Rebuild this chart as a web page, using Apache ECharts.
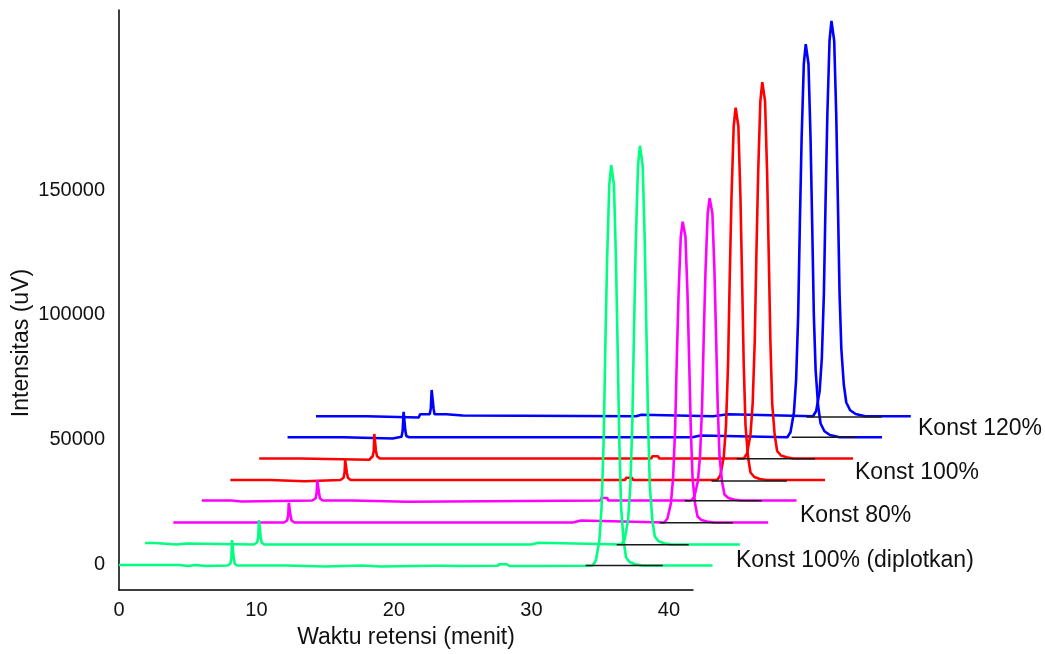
<!DOCTYPE html>
<html>
<head>
<meta charset="utf-8">
<script src="https://cdn.jsdelivr.net/npm/echarts@6/dist/echarts.min.js"></script>
<style>
html,body{margin:0;padding:0;background:#fff;}
#chart{width:1045px;height:654px;}
</style>
</head>
<body>
<div id="chart"></div>
<script>
// ---- Data (x: retention time in minutes, y: intensity in uV) ----
var xTickValues = [0, 10, 20, 30, 40];
var yTickValues = [0, 50000, 100000, 150000];

var seriesNames = ['Konst 100% (diplotkan) A', 'Konst 100% (diplotkan) B', 'Konst 80% A', 'Konst 80% B',
                   'Konst 100% A', 'Konst 100% B', 'Konst 120% A', 'Konst 120% B'];
var seriesColors = ['#00ff80', '#00ff80', '#ff00ff', '#ff00ff', '#ff0000', '#ff0000', '#0000ff', '#0000ff'];

var traceG1 = [[0,400],[4.4,400],[4.5,0],[5.0,0],[5.1,400],[5.6,400],[5.7,0],[6.3,0],[6.4,200],[7.9,200],[8.1,900],[8.18,3500],[8.22,10400],[8.29,10400],[8.34,3500],[8.42,900],[8.6,200],[12.2,200],[12.3,-200],[15,-200],[15.1,200],[17.7,200],[17.8,-200],[19.0,-200],[19.1,100],[22.8,100],[22.9,500],[23.2,100],[25.0,0],[27.5,100],[27.7,700],[28.2,700],[28.4,0],[30.0,0],[30.1,300],[30.4,0],[33.9,100],
  [34.46,200],[34.69,2300],[34.94,10300],[35.10,23600],[35.25,49900],[35.37,86700],[35.50,122000],[35.66,152400],[35.80,160400],[35.92,160400],[36.00,152400],[36.15,122000],[36.27,86700],[36.39,49900],[36.52,23600],[36.70,10300],[36.88,3400],[37.16,1500],[37.56,700],[38.06,200],[43.17,200]];

var traceG2 = [[1.9,9200],[2.6,9200],[2.7,8600],[4.2,8600],[4.3,9000],[4.9,9000],[5.0,8600],[9.8,8600],[10.05,9400],[10.13,11500],[10.18,18400],[10.25,18400],[10.3,11500],[10.38,9400],[10.55,8600],[30.0,8600],[30.1,9300],[30.5,9300],[30.6,8600],
  [36.55,8600],[36.78,10700],[37.03,18600],[37.19,31900],[37.34,58000],[37.46,94700],[37.59,129800],[37.75,160100],[37.89,168100],[38.01,168100],[38.09,160100],[38.24,129800],[38.36,94700],[38.48,58000],[38.61,31900],[38.79,18600],[38.97,11800],[39.25,9900],[39.65,9100],[40.15,8600],[45.16,8600]];

var traceM1 = [[3.95,17400],[6.7,17400],[6.8,16900],[6.9,17400],[8.5,17400],[8.6,16900],[8.7,17400],[12.0,17400],[12.23,18200],[12.31,20500],[12.35,25300],[12.42,25300],[12.47,20500],[12.55,18200],[12.75,17400],[33.0,17400],[33.1,18200],[33.6,18200],[33.7,17400],
  [39.66,17400],[39.89,19000],[40.14,25000],[40.30,35000],[40.45,54700],[40.57,82400],[40.70,108800],[40.86,131700],[41.00,137700],[41.12,137700],[41.20,131700],[41.35,108800],[41.47,82400],[41.59,54700],[41.72,35000],[41.90,25000],[42.08,19800],[42.36,18400],[42.76,17800],[43.26,17400],[47.22,17400]];

var traceM2 = [[6.02,26200],[8.2,26200],[8.3,25800],[8.9,25800],[9.0,26200],[14.05,26200],[14.3,27000],[14.38,29500],[14.42,34400],[14.49,34400],[14.54,29500],[14.62,27000],[14.82,26200],[17.0,26200],[17.1,25700],[21.0,25700],[21.1,26200],[35.0,26200],[35.1,27200],[35.5,27200],[35.6,26200],
  [41.62,26200],[41.85,27800],[42.10,33800],[42.26,43900],[42.41,63700],[42.53,91500],[42.66,118100],[42.82,141100],[42.96,147100],[43.08,147100],[43.16,141100],[43.31,118100],[43.43,91500],[43.55,63700],[43.68,43900],[43.86,33800],[44.04,28600],[44.32,27200],[44.72,26600],[45.22,26200],[49.28,26200]];

var traceR1 = [[8.1,34400],[11.0,34400],[11.1,33900],[13.5,33900],[13.6,34400],[16.1,34400],[16.33,35300],[16.41,37500],[16.45,42400],[16.52,42400],[16.57,37500],[16.65,35300],[16.85,34400],[17.5,34400],[17.6,34900],[17.9,34400],[36.8,34400],[36.9,35300],[37.3,35300],[37.4,34400],
  [43.51,34400],[43.74,36300],[43.99,43800],[44.15,56100],[44.30,80600],[44.42,114800],[44.55,147600],[44.71,175900],[44.85,183300],[44.97,183300],[45.05,175900],[45.20,147600],[45.32,114800],[45.44,80600],[45.57,56100],[45.75,43800],[45.93,37400],[46.21,35600],[46.61,34800],[47.11,34400],[51.35,34400]];

var traceR2 = [[10.2,43000],[13.2,43000],[13.3,42500],[18.2,42500],[18.45,43900],[18.53,46000],[18.57,52800],[18.64,52800],[18.69,46000],[18.77,43900],[18.97,43000],[22.3,43000],[22.4,43500],[22.6,43000],[38.7,43000],[38.8,43900],[39.2,43900],[39.3,43000],
  [45.45,43000],[45.68,45000],[45.93,52500],[46.09,65000],[46.24,89700],[46.36,124300],[46.49,157400],[46.65,186000],[46.79,193500],[46.91,193500],[46.99,186000],[47.14,157400],[47.26,124300],[47.38,89700],[47.51,65000],[47.69,52500],[47.87,46000],[48.15,44200],[48.55,43500],[49.05,43000],[53.39,43000]];

var traceB1 = [[12.26,51500],[16.3,51500],[16.4,51000],[19.9,51000],[20.0,51500],[20.55,51700],[20.63,54000],[20.7,61700],[20.78,61700],[20.83,54000],[20.9,52000],[21.1,51500],[41.7,51500],[41.8,52200],[42.3,52200],[42.4,51500],
  [48.61,51500],[48.84,53500],[49.09,61400],[49.25,74500],[49.40,100200],[49.52,136400],[49.65,171000],[49.81,200800],[49.95,208700],[50.07,208700],[50.15,200800],[50.30,171000],[50.42,136400],[50.54,100200],[50.67,78200],[50.85,64100],[51.03,57000],[51.31,53900],[51.71,52400],[52.41,51500],[55.5,51500]];

var traceB2 = [[14.33,59900],[18.0,59900],[18.1,59400],[21.8,59400],[21.9,60700],[22.6,60700],[22.68,63000],[22.74,70400],[22.82,70400],[22.88,63000],[22.95,60700],[23.8,60700],[23.9,60200],[25.0,60200],[25.1,59900],[37.6,59900],[37.7,60500],[38.0,60500],[38.1,59900],[43.2,59900],[43.3,60700],[44.3,60700],[44.4,59900],
  [50.48,59900],[50.71,62000],[50.96,69900],[51.12,83000],[51.27,108900],[51.39,145300],[51.52,180100],[51.68,210100],[51.82,218000],[51.94,218000],[52.02,210100],[52.17,180100],[52.29,145300],[52.41,108900],[52.54,86800],[52.72,72500],[52.90,65400],[53.18,62300],[53.58,60800],[54.28,59900],[57.59,59900]];

// integration baselines under main peaks: [xStart, xEnd, y]
var peakBaseStart = [33.94, 36.2, 39.33, 41.15, 43.1, 44.94, 48.93, 50.01];
var peakBaseEnd   = [39.55, 41.44, 44.65, 46.74, 48.58, 50.62, 53.66, 55.48];
var peakBaseLevel = [200, 8500, 17300, 26100, 34000, 42900, 51500, 59600];

var labelTexts = ['Konst 120%', 'Konst 100%', 'Konst 80%', 'Konst 100% (diplotkan)'];

// ---- Chart ----
var traces = [traceG1, traceG2, traceM1, traceM2, traceR1, traceR2, traceB1, traceB2];
var FONT = '"Liberation Sans", Arial, sans-serif';

// axis grid (visible axes) and a wider plotting grid with the same scale
var AX_LEFT = 119, AX_TOP = 10, AX_W = 574, AX_H = 582;
var X_MAX = 41.75, X_MAX_PLOT = 60;
var PLOT_W = AX_W * X_MAX_PLOT / X_MAX;
var Y_MIN = -10400, Y_MAX = 222400;

var series = [];
for (var i = traces.length - 1; i >= 0; i--) {
  series.push({
    name: seriesNames[i],
    type: 'line',
    xAxisIndex: 1,
    yAxisIndex: 1,
    data: traces[i],
    showSymbol: false,
    clip: false,
    silent: true,
    z: 2 + (traces.length - i) * 0.01,
    lineStyle: { color: seriesColors[i], width: 2.6 },
    itemStyle: { color: seriesColors[i] }
  });
}
for (var j = 0; j < peakBaseStart.length; j++) {
  series.push({
    name: 'baseline ' + j,
    type: 'line',
    xAxisIndex: 1,
    yAxisIndex: 1,
    data: [[peakBaseStart[j], peakBaseLevel[j]], [peakBaseEnd[j], peakBaseLevel[j]]],
    showSymbol: false,
    clip: false,
    silent: true,
    z: 5,
    lineStyle: { color: '#1a1a1a', width: 1.3 }
  });
}

var chart = echarts.init(document.getElementById('chart'), null, { renderer: 'canvas' });
chart.setOption({
  animation: false,
  backgroundColor: '#ffffff',
  grid: [
    { left: AX_LEFT, top: AX_TOP, width: AX_W, height: AX_H, containLabel: false },
    { left: AX_LEFT, top: AX_TOP, width: PLOT_W, height: AX_H, containLabel: false }
  ],
  xAxis: [{
    type: 'value',
    gridIndex: 0,
    min: 0,
    max: X_MAX,
    name: 'Waktu retensi (menit)',
    nameLocation: 'middle',
    nameGap: 36,
    nameTextStyle: { fontFamily: FONT, fontSize: 23, color: '#111' },
    axisLine: { show: true, onZero: false, lineStyle: { color: '#000', width: 1.5 } },
    axisTick: { show: false },
    splitLine: { show: false },
    axisLabel: { customValues: xTickValues, fontFamily: FONT, fontSize: 20, color: '#111', margin: 10 }
  }, {
    type: 'value',
    gridIndex: 1,
    min: 0,
    max: X_MAX_PLOT,
    show: false
  }],
  yAxis: [{
    type: 'value',
    gridIndex: 0,
    min: Y_MIN,
    max: Y_MAX,
    axisLine: { show: true, onZero: false, lineStyle: { color: '#000', width: 1.5 } },
    axisTick: { show: false },
    splitLine: { show: false },
    axisLabel: {
      customValues: yTickValues, fontFamily: FONT, fontSize: 20, color: '#111', margin: 14,
      padding: [9, 0, 0, 0],
      formatter: function (v) { return String(v); }
    }
  }, {
    type: 'value',
    gridIndex: 1,
    min: Y_MIN,
    max: Y_MAX,
    show: false
  }],
  graphic: [
    { type: 'text', x: 22, y: 343, rotation: Math.PI / 2,
      style: { text: 'Intensitas (uV)', fontFamily: FONT, fontSize: 23, fill: '#111', textAlign: 'center', textVerticalAlign: 'middle' } },
    { type: 'text', x: 918, y: 429,
      style: { text: labelTexts[0], fontFamily: FONT, fontSize: 23, fill: '#111', textAlign: 'left', textVerticalAlign: 'middle' } },
    { type: 'text', x: 855, y: 473,
      style: { text: labelTexts[1], fontFamily: FONT, fontSize: 23, fill: '#111', textAlign: 'left', textVerticalAlign: 'middle' } },
    { type: 'text', x: 800, y: 516,
      style: { text: labelTexts[2], fontFamily: FONT, fontSize: 23, fill: '#111', textAlign: 'left', textVerticalAlign: 'middle' } },
    { type: 'text', x: 736, y: 561,
      style: { text: labelTexts[3], fontFamily: FONT, fontSize: 23, fill: '#111', textAlign: 'left', textVerticalAlign: 'middle' } }
  ],
  series: series
});
</script>
</body>
</html>
